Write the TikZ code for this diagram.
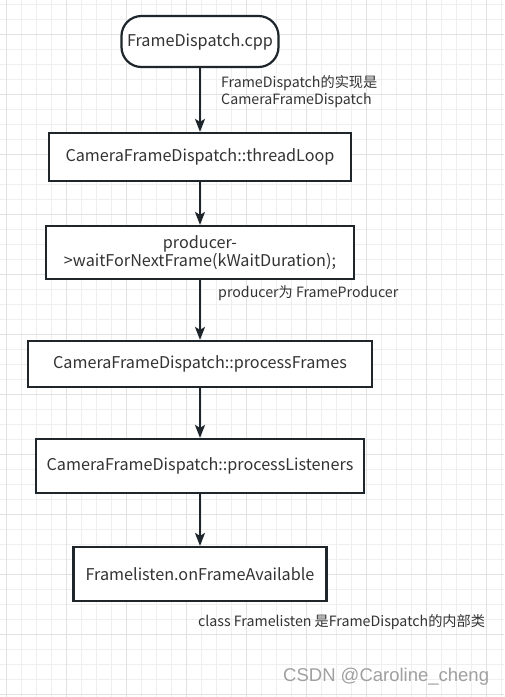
\documentclass[tikz,border=0pt]{standalone}
\usepackage{fontspec}
\setmainfont{Noto Sans CJK SC}
\newfontfamily\wmfont{Liberation Sans}
\usetikzlibrary{arrows.meta}
\definecolor{gridminor}{HTML}{EFEFEF}
\definecolor{gridmajor}{HTML}{E2E2E2}
\definecolor{boxline}{HTML}{1E252B}
\definecolor{txt}{HTML}{333333}
\definecolor{wm}{HTML}{A0A0A0}
\tikzset{
  box/.style={draw=boxline, line width=2.2pt, fill=white, text=txt, font=\fontsize{16.2}{19}\selectfont, inner sep=0pt, align=center},
  term/.style={box, rounded corners=20pt},
  flow/.style={draw=boxline, line width=2pt, -{Stealth[length=13pt,width=10pt,inset=3pt]}},
  note/.style={text=txt, font=\fontsize{14.2}{17}\selectfont, anchor=west, inner sep=0pt, align=left},
}
\begin{document}
\begin{tikzpicture}[x=1pt,y=-1pt]
\useasboundingbox (0,0) rectangle (504,697);
\fill[white] (0,0) rectangle (504,697);
% grid
\foreach \gx in {6,21,...,501} \draw[gridminor, line width=1pt] (\gx,0) -- (\gx,697);
\foreach \gy in {4,19,...,694} \draw[gridminor, line width=1pt] (0,\gy) -- (504,\gy);
\foreach \gx in {6,66,...,486} \draw[gridmajor, line width=1pt] (\gx,0) -- (\gx,697);
\foreach \gy in {34,94,...,694} \draw[gridmajor, line width=1pt] (0,\gy) -- (504,\gy);
% nodes
\node[term, minimum width=157pt, minimum height=51pt] (start) at (200,41.5) {FrameDispatch.cpp};
\node[box, minimum width=302pt, minimum height=48pt] (loop) at (200,157) {CameraFrameDispatch::threadLoop};
\node[box, minimum width=308pt, minimum height=53pt] (wait) at (200,252.5) {producer-\\[-1pt]>waitForNextFrame(kWaitDuration);};
\node[box, minimum width=344pt, minimum height=46pt] (frames) at (200,364) {CameraFrameDispatch::processFrames};
\node[box, minimum width=328pt, minimum height=54pt] (listeners) at (200,466) {CameraFrameDispatch::processListeners};
\node[box, minimum width=253pt, minimum height=54pt] (avail) at (200,574) {Framelisten.onFrameAvailable};
% connectors
\draw[flow] (start) -- (loop);
\draw[flow] (loop) -- (wait);
\draw[flow] (wait) -- (frames);
\draw[flow] (frames) -- (listeners);
\draw[flow] (listeners) -- (avail);
% notes
\node[note] (n1) at (221,91.5) {FrameDispatch的实现是\\CameraFrameDispatch};
\node[note] (n2) at (218,293) {producer为 FrameProducer};
\node[note] (n3) at (198,622) {class Framelisten 是FrameDispatch的内部类};
\node[text=wm, font=\wmfont\fontsize{18.5}{20}\selectfont, anchor=west, inner sep=0pt] (wmk) at (283,677) {CSDN @Caroline\_cheng};
\end{tikzpicture}
\end{document}
